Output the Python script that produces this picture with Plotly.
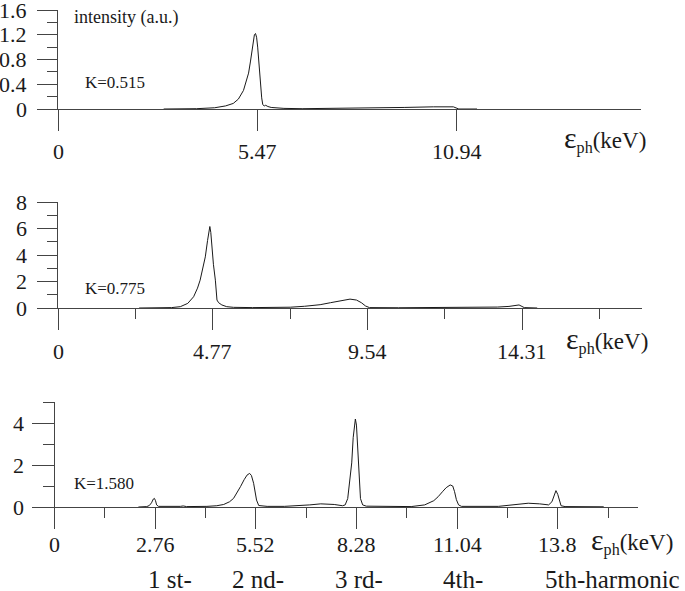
import plotly.graph_objects as go

# ---------------- data ----------------
k515_energy = [2.9, 3.8, 4.3, 4.6, 4.81, 4.95, 5.09, 5.18, 5.23, 5.28, 5.32, 5.36, 5.39, 5.42, 5.45,
               5.48, 5.51, 5.55, 5.59, 5.62, 5.66, 5.70, 5.76, 5.85, 6.2, 6.7, 7.5, 8.5, 9.5, 10.3,
               10.69, 10.85, 11.0, 11.5]
k515_intensity = [0.0, 0.005, 0.02, 0.05, 0.09, 0.16, 0.30, 0.46, 0.58, 0.76, 0.95, 1.12, 1.20, 1.22, 1.16,
                  1.00, 0.75, 0.42, 0.18, 0.07, 0.05, 0.06, 0.04, 0.025, 0.01, 0.005, 0.008, 0.015, 0.025, 0.035,
                  0.04, 0.035, 0.0, 0.0]

k775_energy = [2.5, 3.2, 3.5, 3.77, 4.0, 4.18, 4.30, 4.38, 4.47, 4.54, 4.61, 4.65, 4.68, 4.71, 4.74,
               4.79, 4.85, 4.88, 4.90, 4.95, 5.05, 5.2, 5.41, 6.0, 6.6, 7.16, 7.6, 8.08, 8.4, 8.7,
               9.0, 9.2, 9.35, 9.48, 9.6, 10.5, 12.0, 13.0, 13.54, 13.9, 14.1, 14.21, 14.3, 14.37, 14.77]
k775_intensity = [0.0, 0.02, 0.03, 0.10, 0.35, 0.85, 1.5, 2.1, 3.0, 3.86, 5.1, 5.9, 6.15, 5.7, 4.6,
                  3.3, 2.1, 1.2, 0.6, 0.4, 0.23, 0.1, 0.05, 0.03, 0.04, 0.06, 0.13, 0.25, 0.4, 0.56,
                  0.67, 0.6, 0.4, 0.15, 0.03, 0.02, 0.03, 0.05, 0.07, 0.12, 0.18, 0.23, 0.12, 0.03, 0.0]

k1580_energy = [2.3, 2.53, 2.6, 2.66, 2.71, 2.74, 2.77, 2.8, 2.85, 3.2, 3.45, 3.53, 3.62, 4.18, 4.45,
                4.64, 4.8, 4.91, 5.0, 5.1, 5.2, 5.28, 5.35, 5.4, 5.46, 5.5, 5.54, 5.6, 5.83, 6.3,
                6.75, 7.0, 7.3, 7.67, 7.9, 7.97, 8.04, 8.1, 8.15, 8.19, 8.22, 8.25, 8.28, 8.31, 8.35,
                8.39, 8.45, 8.55, 9.78, 10.15, 10.4, 10.52, 10.65, 10.74, 10.85, 10.92, 10.97, 11.02, 11.08, 11.16,
                12.17, 12.6, 12.99, 13.3, 13.55, 13.64, 13.7, 13.75, 13.8, 13.84, 13.89, 14.0, 15.06]
k1580_intensity = [0.0, 0.02, 0.07, 0.2, 0.38, 0.41, 0.3, 0.1, 0.03, 0.02, 0.03, 0.05, 0.02, 0.03, 0.06,
                   0.12, 0.25, 0.41, 0.65, 0.97, 1.3, 1.52, 1.6, 1.5, 1.13, 0.7, 0.33, 0.07, 0.03, 0.03,
                   0.06, 0.1, 0.15, 0.12, 0.06, 0.1, 0.4, 1.2, 2.1, 3.3, 3.9, 4.19, 3.9, 3.0, 1.5,
                   0.4, 0.1, 0.04, 0.02, 0.1, 0.3, 0.49, 0.75, 0.92, 1.05, 1.0, 0.73, 0.35, 0.1, 0.03,
                   0.03, 0.1, 0.18, 0.15, 0.1, 0.25, 0.55, 0.78, 0.6, 0.3, 0.06, 0.02, 0.01]

k515_xticks = [0, 5.47, 10.94]
k515_xlabels = ["0", "5.47", "10.94"]
k775_xticks = [0, 4.77, 9.54, 14.31]
k775_xlabels = ["0", "4.77", "9.54", "14.31"]
k1580_xticks = [0, 2.76, 5.52, 8.28, 11.04, 13.8]
k1580_xlabels = ["0", "2.76", "5.52", "8.28", "11.04", "13.8"]

k515_yticks = [0, 0.4, 0.8, 1.2, 1.6]
k515_ylabels = ["0", "0.4", "0.8", "1.2", "1.6"]
k775_yticks = [0, 2, 4, 6, 8]
k775_ylabels = ["0", "2", "4", "6", "8"]
k1580_yticks = [0, 2, 4]
k1580_ylabels = ["0", "2", "4"]

panel_labels = ["K=0.515", "K=0.775", "K=1.580"]
harmonic_labels = ["1 st-", "2 nd-", "3 rd-", "4th-", "5th-harmonic"]

# ---------------- figure ----------------
W, H = 685, 591
FONT = "Liberation Serif, Times New Roman, Times, DejaVu Serif, serif"
INK = "#1a1a1a"
AX = "#444444"


def px(x):
    return x / W


def py(y):
    return 1 - y / H


fig = go.Figure()
fig.add_trace(go.Scatter(x=k515_energy, y=k515_intensity, mode="lines",
                         line=dict(color=INK, width=1), xaxis="x", yaxis="y", showlegend=False))
fig.add_trace(go.Scatter(x=k775_energy, y=k775_intensity, mode="lines",
                         line=dict(color=INK, width=1), xaxis="x2", yaxis="y2", showlegend=False))
fig.add_trace(go.Scatter(x=k1580_energy, y=k1580_intensity, mode="lines",
                         line=dict(color=INK, width=1), xaxis="x3", yaxis="y3", showlegend=False))


def xax(domain, rng, tv, anchor, minor_dtick=None):
    d = dict(domain=domain, range=rng, anchor=anchor, showline=True, linecolor=AX, linewidth=1,
             ticks="outside", ticklen=21, tickcolor=AX, tickwidth=1, tickmode="array",
             tickvals=tv, showticklabels=False, showgrid=False, zeroline=False,
             automargin=False, fixedrange=True)
    if minor_dtick:
        d["minor"] = dict(ticks="outside", ticklen=10, tickcolor=AX, tickwidth=1,
                          tick0=0, dtick=minor_dtick, showgrid=False)
    return d


def yax(domain, rng, tv, anchor, minor_dtick, majlen=20, minlen=10):
    return dict(domain=domain, range=rng, anchor=anchor, showline=True, linecolor=AX, linewidth=1,
                ticks="outside", ticklen=majlen, tickcolor=AX, tickwidth=1, tickmode="array",
                tickvals=tv, showticklabels=False, showgrid=False, zeroline=False,
                automargin=False, fixedrange=True,
                minor=dict(ticks="outside", ticklen=minlen, tickcolor=AX, tickwidth=1,
                           tick0=0, dtick=minor_dtick, showgrid=False))


fig.update_layout(
    width=W, height=H, margin=dict(l=0, r=0, t=0, b=0, pad=0, autoexpand=False),
    paper_bgcolor="white", plot_bgcolor="white",
    font=dict(family=FONT, color=INK),
    xaxis=xax([px(58), px(641)], [0, 16], k515_xticks, "y"),
    yaxis=yax([py(109), py(10)], [0, 1.6], k515_yticks, "x", 0.2),
    xaxis2=xax([px(58), px(642)], [0, 18], k775_xticks, "y2", 2.385),
    yaxis2=yax([py(308), py(202)], [0, 8], k775_yticks, "x2", 1),
    xaxis3=xax([px(54.5), px(638)], [0, 16], k1580_xticks, "y3", 1.38),
    yaxis3=yax([py(507), py(402)], [0, 5], k1580_yticks, "x3", 1, 22, 11),
)

ann = []
tickfont = dict(family=FONT, size=22, color=INK)
# x tick labels (data x, paper y)
for xref, vals, labs, ly in [("x", k515_xticks, k515_xlabels, 151),
                             ("x2", k775_xticks, k775_xlabels, 351),
                             ("x3", k1580_xticks, k1580_xlabels, 544)]:
    for v, t in zip(vals, labs):
        ann.append(dict(text=t, x=v, xref=xref, y=py(ly), yref="paper",
                        xanchor="center", yanchor="middle", font=tickfont))
# y tick labels (paper x, data y)
for yref, vals, labs, rx in [("y", k515_yticks, k515_ylabels, 29),
                             ("y2", k775_yticks, k775_ylabels, 29),
                             ("y3", k1580_yticks, k1580_ylabels, 26)]:
    for v, t in zip(vals, labs):
        ann.append(dict(text=t, x=px(rx), xref="paper", y=v, yref=yref,
                        xanchor="right", yanchor="middle", font=tickfont))

ann.append(dict(text="intensity (a.u.)", x=px(72), y=py(17), xref="paper", yref="paper",
                xanchor="left", yanchor="middle", font=dict(family=FONT, size=18, color=INK)))
for lab, (lx, ly) in zip(panel_labels, [(83, 82), (83, 288), (72, 483)]):
    ann.append(dict(text=lab, x=px(lx), y=py(ly), xref="paper", yref="paper",
                    xanchor="left", yanchor="middle", font=dict(family=FONT, size=17, color=INK)))
eps = '<span style="font-size:30px">ε</span><sub>ph</sub>(keV)'
for lx, ly in [(562, 139), (564, 340), (589, 541)]:
    ann.append(dict(text=eps, x=px(lx), y=py(ly), xref="paper", yref="paper",
                    xanchor="left", yanchor="middle", font=dict(family=FONT, size=23, color=INK)))
for lab, cx in zip(harmonic_labels, [170, 258, 359, 463, 612]):
    ann.append(dict(text=lab, x=px(cx), y=py(579), xref="paper", yref="paper",
                    xanchor="center", yanchor="middle", font=dict(family=FONT, size=25, color=INK)))
for a in ann:
    a.update(showarrow=False)
fig.update_layout(annotations=ann)

fig.write_html("out.html", config={"displayModeBar": False, "staticPlot": True},
               post_script="document.body.style.margin='0';document.body.style.overflow='hidden';")
